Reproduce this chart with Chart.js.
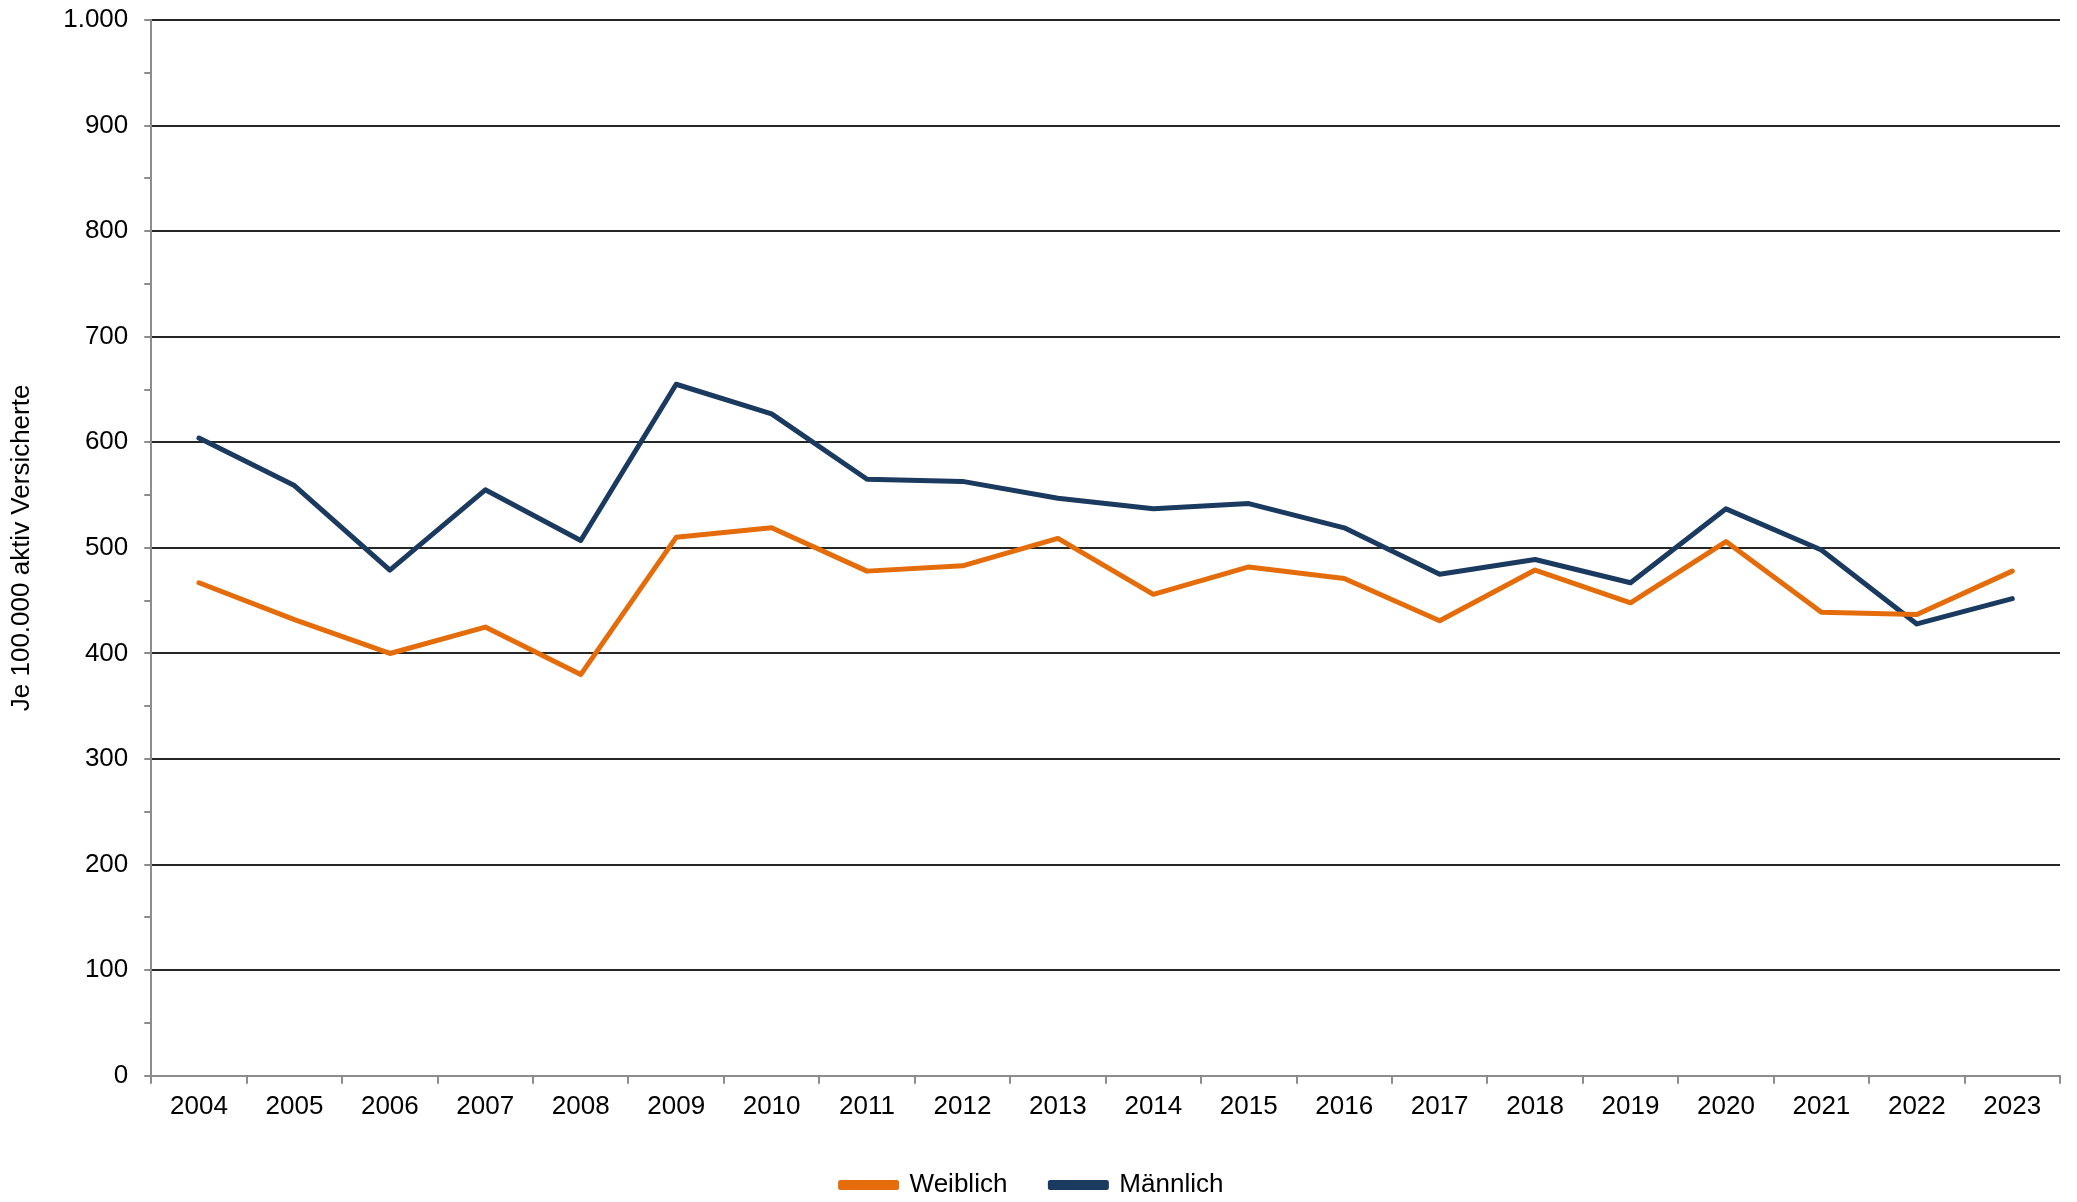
<!DOCTYPE html>
<html lang="de">
<head>
<meta charset="utf-8">
<title>Je 100.000 aktiv Versicherte</title>
<script src="https://cdn.jsdelivr.net/npm/chart.js@4/dist/chart.umd.min.js"></script>
<style>
  html, body { margin: 0; padding: 0; background: #fff; }
  #wrap { width: 2077px; height: 1202px; }
</style>
</head>
<body>
<div id="wrap"><canvas id="chart"></canvas></div>
<script>
    // Jahre und Werte (je 100.000 aktiv Versicherte)
    const years = ['2004', '2005', '2006', '2007', '2008', '2009', '2010', '2011', '2012', '2013',
                   '2014', '2015', '2016', '2017', '2018', '2019', '2020', '2021', '2022', '2023'];
    const weiblich = [467, 432, 400, 425, 380, 510, 519, 478, 483, 509,
                      456, 482, 471, 431, 479, 448, 506, 439, 437, 478];
    const maennlich = [604, 559, 479, 555, 507, 655, 627, 565, 563, 547,
                       537, 542, 519, 475, 489, 467, 537, 498, 428, 452];
    const yTitle = 'Je 100.000 aktiv Versicherte';

    const font = { family: "'Liberation Sans', Arial, sans-serif", size: 26 };
    const tightFont = { family: font.family, size: 26, lineHeight: 1 };
    Chart.defaults.font = font;
    Chart.defaults.color = '#000';

    const ctx = document.getElementById('chart').getContext('2d');
    const chart = new Chart(ctx, {
      type: 'line',
      data: {
        labels: years,
        datasets: [
          {
            label: 'Weiblich',
            data: weiblich,
            borderColor: '#E46C0A',
            backgroundColor: '#E46C0A',
            borderWidth: 5,
            tension: 0,
            pointRadius: 0,
            borderJoinStyle: 'round',
            borderCapStyle: 'round'
          },
          {
            label: 'Männlich',
            data: maennlich,
            borderColor: '#1B3A5F',
            backgroundColor: '#1B3A5F',
            borderWidth: 5,
            tension: 0,
            pointRadius: 0,
            borderJoinStyle: 'round',
            borderCapStyle: 'round'
          }
        ]
      },
      options: {
        responsive: true,
        maintainAspectRatio: false,
        animation: false,
        layout: {
          padding: { left: 4, right: 17, top: 20, bottom: -6 }
        },
        plugins: {
          legend: {
            position: 'bottom',
            labels: {
              boxWidth: 56,
              boxHeight: 5,
              padding: 43,
              font: tightFont
            }
          },
          tooltip: { enabled: false }
        },
        scales: {
          x: {
            offset: true,
            border: { color: '#8c8c8c', width: 2 },
            grid: {
              offset: true,
              drawOnChartArea: false,
              tickLength: 8,
              tickColor: '#8c8c8c',
              lineWidth: 2
            },
            ticks: { padding: 7, font: font, color: '#000' }
          },
          y: {
            min: 0,
            max: 1000,
            // the top label may overhang the plot area, like in the original
            afterFit: function(scale) {
              scale.paddingTop = 0;
              scale.paddingBottom = 0;
            },
            border: { color: '#8c8c8c', width: 2 },
            grid: {
              tickLength: 7,
              tickColor: '#8c8c8c',
              lineWidth: 2,
              color: function(c) {
                const v = c.tick ? c.tick.value : 0;
                if (v === 0) return '#8c8c8c';
                return v % 100 === 0 ? '#262626' : 'rgba(0,0,0,0)';
              }
            },
            ticks: {
              stepSize: 50,
              padding: 16,
              font: tightFont,
              color: '#000',
              callback: function(value) {
                if (value % 100 !== 0) return '';
                return value.toLocaleString('de-DE');
              }
            },
            title: {
              display: true,
              text: yTitle,
              font: font,
              color: '#000',
              padding: { top: 2, bottom: 10 }
            }
          }
        }
      }
    });
</script>
</body>
</html>
